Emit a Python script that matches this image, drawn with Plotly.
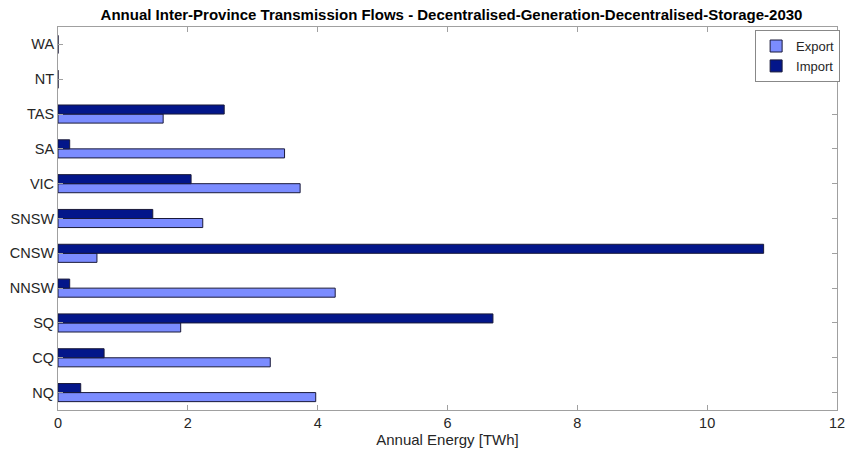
import plotly.graph_objects as go

# Regions listed bottom to top on the y axis
regions = ["NQ", "CQ", "SQ", "NNSW", "CNSW", "SNSW", "VIC", "SA", "TAS", "NT", "WA"]

# Annual energy flows in TWh
export_twh = [3.97, 3.27, 1.89, 4.27, 0.60, 2.23, 3.73, 3.49, 1.62, 0.0, 0.0]
import_twh = [0.35, 0.71, 6.70, 0.18, 10.87, 1.46, 2.05, 0.18, 2.56, 0.0, 0.0]

export_color = "#7B8CFF"
import_color = "#03168A"
edge_color = "#1a1a3a"

fig = go.Figure()
fig.add_trace(go.Bar(
    y=regions, x=export_twh, name="Export", orientation="h",
    marker=dict(color=export_color, line=dict(color=edge_color, width=1)),
))
fig.add_trace(go.Bar(
    y=regions, x=import_twh, name="Import", orientation="h",
    marker=dict(color=import_color, line=dict(color=edge_color, width=1)),
))

font_family = "Liberation Sans, Arial, sans-serif"

fig.update_layout(
    width=854, height=455,
    margin=dict(l=58, r=9, t=27, b=44),
    paper_bgcolor="white", plot_bgcolor="white",
    barmode="group", bargap=0.48, bargroupgap=0.0,
    font=dict(family=font_family, size=14, color="#262626"),
    title=dict(
        text="<b>Annual Inter-Province Transmission Flows - Decentralised-Generation-Decentralised-Storage-2030</b>",
        x=(58 + 845) / 2 / 854, xanchor="center", y=1 - 15 / 455, yanchor="middle",
        font=dict(family=font_family, size=15, color="#000000"),
    ),
    legend=dict(
        x=1.004, xanchor="right", y=0.992, yanchor="top",
        bgcolor="white", bordercolor="#888888", borderwidth=1,
        font=dict(size=13, color="#262626"),
        traceorder="normal", tracegroupgap=0, itemwidth=30,
    ),
    showlegend=True,
)

fig.update_xaxes(
    range=[0, 12], tickvals=[0, 2, 4, 6, 8, 10, 12],
    showgrid=False, zeroline=False,
    showline=True, linecolor="#a0a0a0", linewidth=1, mirror="ticks",
    ticks="inside", ticklen=5, tickcolor="#a0a0a0",
    title=dict(text="Annual Energy [TWh]", font=dict(size=15, color="#262626"), standoff=4),
    tickfont=dict(size=14.5, color="#262626"),
)
fig.update_yaxes(
    categoryorder="array", categoryarray=regions, range=[-0.5, 10.5],
    showgrid=False, zeroline=False,
    showline=True, linecolor="#a0a0a0", linewidth=1, mirror="ticks",
    ticks="inside", ticklen=5, tickcolor="#a0a0a0",
    tickfont=dict(size=14.5, color="#262626"),
)

fig.write_html("out.html")
